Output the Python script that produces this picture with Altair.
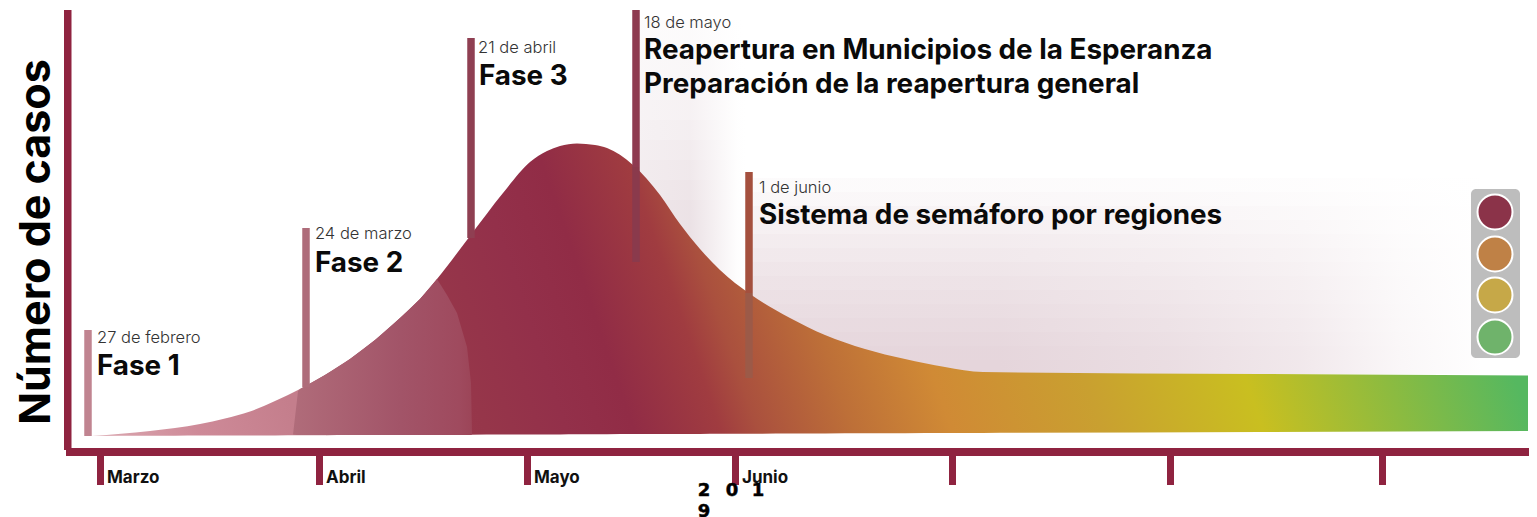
import altair as alt
import pandas as pd

FONT = "Inter"
MAROON = "#8f2340"

# timeline position (0 = 1 March tick) and relative number of cases
curve_t = [-8, 50, 75, 100, 125, 150, 175, 200, 225, 250, 275, 300, 320, 337, 370, 403, 430, 447, 460, 477, 495, 507, 533, 560, 580, 600, 620, 650, 690, 725, 765, 805, 845, 883, 1159, 1428]
curve_v = [14, 19, 22, 26, 31.5, 38.5, 49, 61, 75, 91, 110, 132, 151, 171, 214, 257, 288, 299, 304, 306.5, 305, 302, 285, 255, 226, 201, 180, 156, 132, 115, 101, 91, 83, 78, 76, 74.5]
curve_low = [14, 14.2, 14.3, 14.4, 14.5, 14.5, 14.6, 14.7, 14.8, 14.9, 15, 15.1, 15.1, 15.2, 15.3, 15.4, 15.5, 15.6, 15.6, 15.7, 15.7, 15.8, 15.9, 16, 16, 16.1, 16.2, 16.3, 16.4, 16.5, 16.7, 16.8, 17, 17.1, 18, 19]

phase_t = [193, 197, 198, 200, 225, 250, 275, 300, 320, 337, 347, 357, 367, 371, 372]
phase_v = [15.5, 50, 59, 61, 75, 91, 110, 132, 151, 171, 155, 137, 103, 67, 15.5]
phase_low = [15.5, 15, 15, 15, 15, 15, 15, 15, 15, 15, 15, 15, 15, 15, 15.5]

event_t = [-12, 206, 371, 536, 649]
event_top = [120, 222, 412, 440, 278]
event_mid = [14, 63, 212, 283, 157]
event_low = [14, 63, 212, 188, 72]
event_col = ["#c08490", "#ae6c7a", "#8f3f52", "#8e3a50", "#a4503e"]
event_under = ["#c08490", "#ae6c7a", "#8f3f52", "#8a3a4c", "#9c5a48"]

dates = ["27 de febrero", "24 de marzo", "21 de abril", "18 de mayo", "1 de junio"]
date_t = [-3, 215, 378, 544, 659]
date_v = [107, 211, 397, 422, 257]

heads = ["Fase 1", "Fase 2", "Fase 3", "Reapertura en Municipios de la Esperanza", "Preparación de la reapertura general", "Sistema de semáforo por regiones"]
head_t = [-3, 215, 379, 544, 544, 659]
head_v = [75, 178, 365, 391, 357, 226]

months = ["Marzo", "Abril", "Mayo", "Junio"]
month_t = [7, 226, 434, 642]
tick_t = [0.5, 219.5, 427.5, 635.5, 852.5, 1070.5, 1282.5]

year_chars = ["2", "0", "1", "9"]
year_t = [604, 632, 658, 604]
year_v = [-46, -46, -46, -67]

light_t = [1395, 1395, 1395, 1395]
light_v = [238, 196, 155, 113]
light_col = ["#8b3349", "#bf8146", "#c6a848", "#6fb36b"]

# background glow: strength per horizontal strip, top to bottom
glow_a_top = [430, 410, 390, 370, 350, 330, 310, 290, 270, 250, 230, 210, 190, 170]
glow_a_alpha = [0.15, 0.2, 0.28, 0.36, 0.45, 0.55, 0.65, 0.75, 0.85, 0.95, 1, 1, 1, 1]
glow_b_top = [272, 258, 244, 230, 216, 202, 188, 174, 160, 146, 132, 118, 104, 90]
glow_b_alpha = [0.1, 0.18, 0.28, 0.36, 0.45, 0.52, 0.6, 0.67, 0.74, 0.8, 0.86, 0.92, 0.97, 1]

sx = alt.Scale(domain=[-92, 1429], range=[0, 1521], nice=False, zero=False)
sy = alt.Scale(domain=[-67, 442], range=[509, 0], nice=False, zero=False)
X = lambda f: alt.X(f, type="quantitative", scale=sx, axis=None)
Y = lambda f: alt.Y(f, type="quantitative", scale=sy, axis=None)


def lin(stops, **kw):
    base = dict(x1=0, x2=1, y1=0, y2=0)
    base.update(kw)
    return alt.Gradient(gradient="linear", stops=[alt.GradientStop(color=c, offset=o) for o, c in stops], **base)


def rect(df, **kw):
    return alt.Chart(df).mark_rect(**kw).encode(x=X("a"), x2="b", y=Y("c"), y2="d")


layers = []

# soft shading behind the curve
for top, al in zip(glow_a_top, glow_a_alpha):
    stops = [(o, f"rgba(235,225,229,{round(al * p, 3)})") for o, p in
             [(0, 0.85), (0.49, 1), (0.7, 0.55), (0.92, 0.05), (1, 0)]]
    layers.append(rect(pd.DataFrame({"a": [536], "b": [646], "c": [top], "d": [top - 20]}), color=lin(stops)))
for top, al in zip(glow_b_top, glow_b_alpha):
    stops = [(o, f"rgba(229,213,219,{round(al * p, 3)})") for o, p in
             [(0, 1), (0.343, 1), (0.575, 0.8), (0.753, 0.55), (0.89, 0.2), (1, 0.02)]]
    layers.append(rect(pd.DataFrame({"a": [649], "b": [1380], "c": [top], "d": [top - 14]}), color=lin(stops)))

# curve
df = pd.DataFrame({"t": curve_t, "v": curve_v, "low": curve_low})
layers.append(alt.Chart(df).mark_area(interpolate="monotone", color=lin([
    (0, "#dba9b1"), (0.075, "#ce8a98"), (0.145, "#c47e8c"), (0.162, "#c47e8c"), (0.1625, "#9c3e50"),
    (0.275, "#96364a"), (0.33, "#93304a"), (0.377, "#912c46"), (0.437, "#a03c40"), (0.463, "#aa503e"),
    (0.528, "#bd6f38"), (0.597, "#d08a35"), (0.702, "#c9a030"), (0.813, "#c9bf20"),
    (0.911, "#8cbb40"), (1, "#55b860")], x1=0, y1=1, x2=1, y2=0.93)).encode(x=X("t"), y=Y("v"), y2="low"))

# Phase 2 lighter region
df = pd.DataFrame({"t": phase_t, "v": phase_v, "low": phase_low})
layers.append(alt.Chart(df).mark_area(color=lin([
    (0, "#b06c7a"), (0.6, "#a25468"), (0.93, "#9f4a5e"), (1, "#9c4558")])).encode(
    x=X("t"), y=Y("v"), y2="low"))

# event rules
df = pd.DataFrame({"t": event_t, "top": event_top, "mid": event_mid, "low": event_low,
                   "col": event_col, "under": event_under})
layers.append(alt.Chart(df).mark_rule(strokeWidth=7.5).encode(
    x=X("t"), y=Y("mid"), y2="low", color=alt.Color("under:N", scale=None)))
layers.append(alt.Chart(df).mark_rule(strokeWidth=7.5).encode(
    x=X("t"), y=Y("top"), y2="mid", color=alt.Color("col:N", scale=None)))

# axes
layers.append(rect(pd.DataFrame({"a": [-36], "b": [-28.5], "c": [440], "d": [0]}), color=MAROON))
layers.append(rect(pd.DataFrame({"a": [-34], "b": [1429], "c": [2], "d": [-6]}), color=MAROON))
df = pd.DataFrame({"a": [t - 3.5 for t in tick_t], "b": [t + 3.5 for t in tick_t], "c": -6, "d": -35})
layers.append(rect(df, color=MAROON))


# labels
def text(labels, ts, vs, **kw):
    d = pd.DataFrame({"label": labels, "t": ts, "v": vs})
    opts = dict(font=FONT, align="left", baseline="alphabetic")
    opts.update(kw)
    return alt.Chart(d).mark_text(**opts).encode(x=X("t"), y=Y("v"), text="label:N")


layers.append(text(dates, date_t, date_v, fontSize=16.5, fontWeight=300, color="#333333"))
layers.append(text(heads, head_t, head_v, fontSize=27.8, fontWeight="bold", color="#0a0a0a"))
layers.append(text(months, month_t, [-33] * 4, fontSize=17, fontWeight="bold", color="#111111"))
layers.append(text(year_chars, year_t, year_v, font="DejaVu Sans", fontSize=18, fontWeight="bold",
                   align="center", color="#000000", stroke="#000000", strokeWidth=0.5))
layers.append(text(["Número de casos"], [-50], [208], fontSize=43, fontWeight="bold", angle=270,
                   align="center", color="#000000"))

# traffic light
layers.append(rect(pd.DataFrame({"a": [1371], "b": [1420], "c": [261], "d": [92]}), color="#bdbdbd", cornerRadius=5))
df = pd.DataFrame({"t": light_t, "v": light_v, "col": light_col})
layers.append(alt.Chart(df).mark_point(filled=True, size=1225, opacity=1, stroke="#ffffff", strokeWidth=2).encode(
    x=X("t"), y=Y("v"), fill=alt.Fill("col:N", scale=None)))

chart = alt.layer(*layers).properties(
    width=1521, height=509, padding=0,
    autosize=alt.AutoSizeParams(type="none"),
).configure_view(stroke=None)

chart.save("out.html", embed_options={"renderer": "svg", "actions": False})
